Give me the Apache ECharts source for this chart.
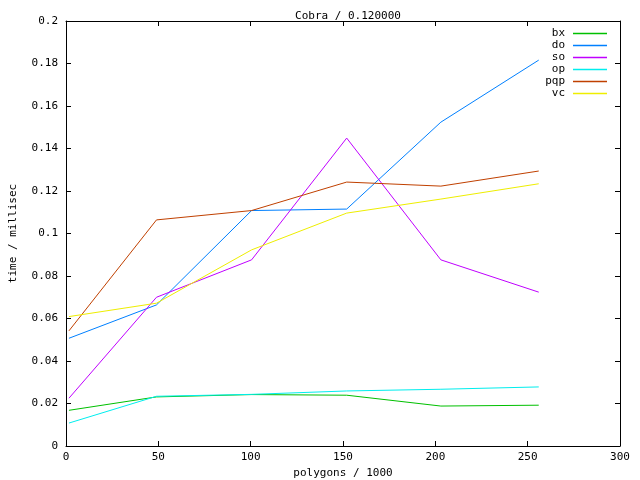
<!DOCTYPE html>
<html>
<head>
<meta charset="utf-8">
<script src="https://cdn.jsdelivr.net/npm/echarts@6/dist/echarts.min.js"></script>
<style>html,body{margin:0;padding:0;background:#fff}#c{width:640px;height:480px}</style>
</head>
<body>
<div id="c"></div>
<script>
var xs = [1.6, 49, 100.5, 152, 203, 256];
var seriesNames = ['bx', 'do', 'so', 'op', 'pqp', 'vc'];
var bx  = [0.0168, 0.0231, 0.0242, 0.0239, 0.0188, 0.0192];
var dO  = [0.0507, 0.0664, 0.1108, 0.1115, 0.1524, 0.1816];
var so  = [0.0225, 0.0700, 0.0876, 0.1449, 0.0876, 0.0724];
var op  = [0.0108, 0.0234, 0.0243, 0.0259, 0.0267, 0.0278];
var pqp = [0.0542, 0.1064, 0.1108, 0.1242, 0.1223, 0.1294];
var vc  = [0.0609, 0.0672, 0.0923, 0.1096, 0.1162, 0.1234];
var colors = ['#00c000', '#0080ff', '#c000ff', '#00eeee', '#c04000', '#eeee00'];
var titleText = 'Cobra / 0.120000';
var xName = 'polygons / 1000';
var yName = 'time / millisec';

var allVals = [bx, dO, so, op, pqp, vc];
var font = 'DejaVu Sans Mono';
function pairs(v){ return xs.map(function(x,i){ return [x, v[i]]; }); }

var chart = echarts.init(document.getElementById('c'), null, {renderer:'canvas'});
var axisLine = {show:true, onZero:false, lineStyle:{color:'#000', width:1}};
var tick = {show:true, inside:true, length:5, lineStyle:{color:'#000'}};
chart.setOption({
  animation:false,
  backgroundColor:'#fff',
  title:{text:titleText, left:343, textAlign:'center', top:6,
    textStyle:{fontFamily:font, fontSize:11, fontWeight:'normal', color:'#000'}},
  grid:{left:66, right:20, top:21, bottom:34, containLabel:false, outerBoundsMode:'none'},
  legend:{orient:'vertical', right:28, top:23, align:'right', itemGap:1,
    itemWidth:34, itemHeight:1.5, icon:'rect',
    itemStyle:{borderWidth:0, borderColor:'transparent'},
    textStyle:{fontFamily:font, fontSize:11, lineHeight:11, color:'#000', padding:[0,3,0,0]},
    data:seriesNames.map(function(n,i){ return {name:n, icon:'rect', itemStyle:{color:colors[i], borderWidth:0}}; })},
  xAxis:[{type:'value', min:0, max:300, interval:50, axisLine:axisLine, axisTick:tick,
      splitLine:{show:false}, name:xName, nameLocation:'middle', nameGap:20,
      nameTextStyle:{fontFamily:font, fontSize:11, color:'#000'},
      axisLabel:{fontFamily:font, fontSize:11, color:'#000', margin:6}},
    {type:'value', position:'top', min:0, max:300, interval:50, axisLine:axisLine, axisTick:tick,
      splitLine:{show:false}, axisLabel:{show:false}}],
  yAxis:[{type:'value', min:0, max:0.2, interval:0.02, axisLine:axisLine, axisTick:tick,
      splitLine:{show:false}, name:yName, nameLocation:'middle', nameGap:47,
      nameTextStyle:{fontFamily:font, fontSize:11, color:'#000'},
      axisLabel:{fontFamily:font, fontSize:11, color:'#000', margin:8}},
    {type:'value', position:'right', min:0, max:0.2, interval:0.02, axisLine:axisLine, axisTick:tick,
      splitLine:{show:false}, axisLabel:{show:false}}],
  series: seriesNames.map(function(n,i){
    return {name:n, type:'line', data:pairs(allVals[i]), showSymbol:false, symbol:'none',
      lineStyle:{width:1, color:colors[i]}, itemStyle:{color:colors[i]}};
  })
});
</script>
</body>
</html>
